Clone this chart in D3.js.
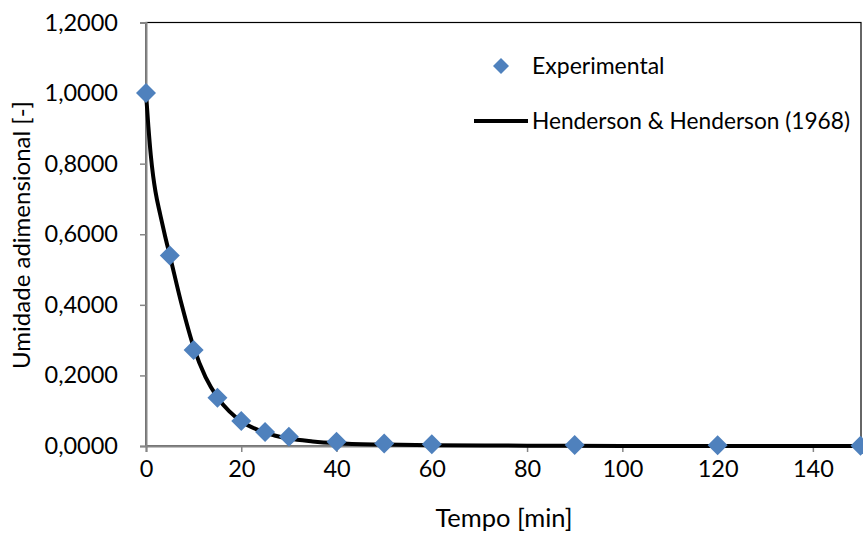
<!DOCTYPE html>
<html>
<head>
<meta charset="utf-8">
<script src="https://cdn.jsdelivr.net/npm/d3@7"></script>
<style>
  html, body { margin: 0; padding: 0; background: #ffffff; }
  svg { display: block; }
  text { font-family: Lato, "Open Sans", sans-serif; fill: #000; }
</style>
</head>
<body>
<svg id="chart" width="863" height="535"></svg>
<script>
// Drying data: dimensionless moisture ratio vs. time
const expTime   = [0, 5, 10, 15, 20, 25, 30, 40, 50, 60, 90, 120, 150];
const expMoist  = [1.0, 0.54, 0.272, 0.137, 0.071, 0.040, 0.026, 0.012, 0.007, 0.005, 0.003, 0.002, 0.001];

// Henderson & Henderson (1968) fitted curve, sampled values
const modelTime  = [0, 0.5, 1, 1.5, 2, 3, 4, 5, 7.5, 10, 12.5, 15, 17.5, 20, 25, 30, 35, 40, 50, 60, 80, 100, 150];
const modelMoist = [1.0, 0.905, 0.825, 0.765, 0.72, 0.655, 0.595, 0.54, 0.40, 0.28, 0.195, 0.138, 0.098, 0.07, 0.038, 0.021, 0.013, 0.008, 0.004, 0.002, 0.001, 0.0, 0.0];

const xTicks = [0, 20, 40, 60, 80, 100, 120, 140];
const yTicks = [0, 0.2, 0.4, 0.6, 0.8, 1.0, 1.2];

const seriesNames = ["Experimental", "Henderson & Henderson (1968)"];

const svg = d3.select("#chart");
const plotL = 146, plotR = 860.5, plotT = 22.5, plotB = 446;

const x = d3.scaleLinear().domain([0, 150]).range([plotL, plotR]);
const y = d3.scaleLinear().domain([0, 1.2]).range([plotB, plotT]);

const fmt = v => d3.format(".4f")(v).replace(".", ",");
const axisColor = "#868686";
const blue = "#4F81BD";

// plot area frame
svg.append("rect")
  .attr("x", plotL).attr("y", plotT)
  .attr("width", plotR + 0.5 - plotL).attr("height", plotB - plotT)
  .attr("fill", "none").attr("stroke", "#000").attr("stroke-width", 1.2);

// y axis
const yAxis = svg.append("g")
  .attr("transform", `translate(${plotL},0)`)
  .call(d3.axisLeft(y).tickValues(yTicks).tickFormat(fmt).tickSize(6).tickPadding(22));
yAxis.select(".domain").attr("stroke", axisColor).attr("stroke-width", 2);
yAxis.selectAll(".tick line").attr("stroke", axisColor).attr("stroke-width", 1.5);
yAxis.selectAll(".tick text").attr("font-size", 23.5).attr("font-family", "Lato").attr("fill", "#000");

// x axis
const xAxis = svg.append("g")
  .attr("transform", `translate(0,${plotB})`)
  .call(d3.axisBottom(x).tickValues(xTicks).tickFormat(d3.format("d")).tickSize(6).tickPadding(8));
xAxis.select(".domain").attr("stroke", axisColor).attr("stroke-width", 2);
xAxis.selectAll(".tick line").attr("stroke", axisColor).attr("stroke-width", 1.5);
xAxis.selectAll(".tick text").attr("font-size", 23.5).attr("font-family", "Lato").attr("fill", "#000");

// model curve
const modelData = modelTime.map((t, i) => [t, modelMoist[i]]);
svg.append("path")
  .datum(modelData)
  .attr("fill", "none")
  .attr("stroke", "#000")
  .attr("stroke-width", 4)
  .attr("stroke-linejoin", "round")
  .attr("d", d3.line().x(d => x(d[0])).y(d => y(d[1])).curve(d3.curveMonotoneX));

// experimental points
const diamond = d3.symbol().type(d3.symbolSquare).size(200);
svg.append("g").selectAll("path")
  .data(expTime.map((t, i) => [t, expMoist[i]]))
  .join("path")
  .attr("d", diamond)
  .attr("fill", blue)
  .attr("transform", d => `translate(${x(d[0])},${y(d[1])}) rotate(45)`);

// axis titles
svg.append("text")
  .attr("x", 504).attr("y", 527)
  .attr("text-anchor", "middle")
  .attr("font-size", 25.5)
  .text("Tempo [min]");

svg.append("text")
  .attr("transform", "translate(30,235) rotate(-90)")
  .attr("text-anchor", "middle")
  .attr("font-size", 24)
  .text("Umidade adimensional [-]");

// legend
const legend = svg.append("g");
legend.append("path")
  .attr("d", d3.symbol().type(d3.symbolSquare).size(128))
  .attr("fill", blue)
  .attr("transform", "translate(501,66) rotate(45)");
legend.append("text")
  .attr("x", 532).attr("y", 66).attr("dy", "0.35em")
  .attr("font-size", 23)
  .text(seriesNames[0]);
legend.append("line")
  .attr("x1", 474).attr("x2", 528).attr("y1", 121).attr("y2", 121)
  .attr("stroke", "#000").attr("stroke-width", 4);
legend.append("text")
  .attr("x", 532).attr("y", 121).attr("dy", "0.35em")
  .attr("font-size", 22.7)
  .text(seriesNames[1]);
</script>
</body>
</html>
